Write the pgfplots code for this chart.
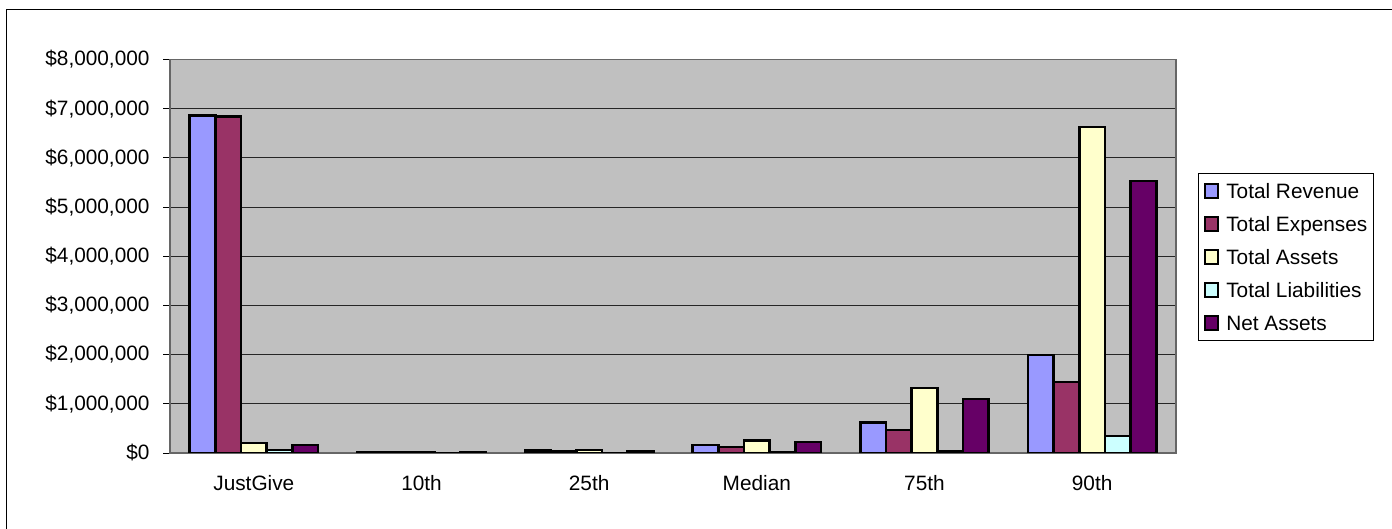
\documentclass[border=0pt]{standalone}
\usepackage{pgfplots}
\pgfplotsset{compat=1.18}
\usepackage{fontspec}
\setmainfont{Liberation Sans}
\definecolor{cRev}{HTML}{9999FF}
\definecolor{cExp}{HTML}{993366}
\definecolor{cAss}{HTML}{FFFFCC}
\definecolor{cLia}{HTML}{CCFFFF}
\definecolor{cNet}{HTML}{660066}
\definecolor{plotbg}{HTML}{C0C0C0}
\begin{document}
\begin{tikzpicture}
\path[use as bounding box] (0,0) rectangle (1392bp,529bp);
\draw[line width=1bp] (6.5bp,-2bp) -- (6.5bp,519.5bp) -- (1394bp,519.5bp);
\begin{axis}[
  at={(170bp,76bp)}, anchor=south west,
  scale only axis, width=1006bp, height=393.5bp,
  xmin=-0.5, xmax=5.5, ymin=0, ymax=8000000,
  ybar=0pt, bar width=0.153,
  axis background/.style={fill=plotbg},
  axis line style={draw=gray!80!black, line width=1.5bp},
  xtick={0,1,2,3,4,5},
  xticklabels={JustGive,10th,25th,Median,75th,90th},
  major x tick style={draw=none},
  extra x ticks={-0.5,0.5,1.5,2.5,3.5,4.5,5.5},
  extra x tick labels={},
  extra x tick style={major tick length=7bp, tick align=outside, major tick style={draw=black, line width=0.8bp}},
  xtick pos=bottom, ytick pos=left,
  ytick={0,1000000,2000000,3000000,4000000,5000000,6000000,7000000,8000000},
  yticklabels={\$0,{\$1,000,000},{\$2,000,000},{\$3,000,000},{\$4,000,000},{\$5,000,000},{\$6,000,000},{\$7,000,000},{\$8,000,000}},
  scaled y ticks=false,
  ymajorgrids, major grid style={draw=black!85, line width=0.9bp},
  major tick length=7bp, tick align=outside,
  major tick style={draw=black, line width=0.8bp},
  tick label style={font=\fontsize{20.8bp}{24bp}\selectfont},
  yticklabel style={xshift=-10bp},
  xticklabel style={anchor=base, yshift=-30bp},
  legend style={at={(1.0219,0.7116)}, anchor=north west, draw=black, line width=0.8bp,
     font=\fontsize{20.8bp}{24bp}\selectfont, row sep=12.5bp, inner xsep=5.5bp, inner ysep=7.5bp,
     nodes={inner xsep=0.5bp, inner ysep=0bp, text height=17.5bp, text depth=3bp},
     cells={anchor=west}},
  legend image code/.code={\draw[#1, draw=black, line width=1.8bp] (0bp,-6.5bp) rectangle (13.5bp,7bp); \path[draw=none,fill=none] (0bp,0bp) -- (21bp,0bp);},
  every axis plot/.append style={draw=black, line width=2.5bp},
]
\addplot[fill=cRev] coordinates {(0,6860000) (1,12000) (2,50000) (3,160000) (4,620000) (5,1990000)};
\addplot[fill=cExp] coordinates {(0,6840000) (1,11000) (2,35000) (3,120000) (4,470000) (5,1440000)};
\addplot[fill=cAss] coordinates {(0,200000) (1,10000) (2,60000) (3,250000) (4,1320000) (5,6630000)};
\addplot[fill=cLia] coordinates {(0,60000) (1,1000) (2,3000) (3,10000) (4,40000) (5,350000)};
\addplot[fill=cNet] coordinates {(0,160000) (1,8000) (2,40000) (3,220000) (4,1100000) (5,5530000)};
\legend{Total Revenue,Total Expenses,Total Assets,Total Liabilities,Net Assets}
\end{axis}
\end{tikzpicture}
\end{document}
